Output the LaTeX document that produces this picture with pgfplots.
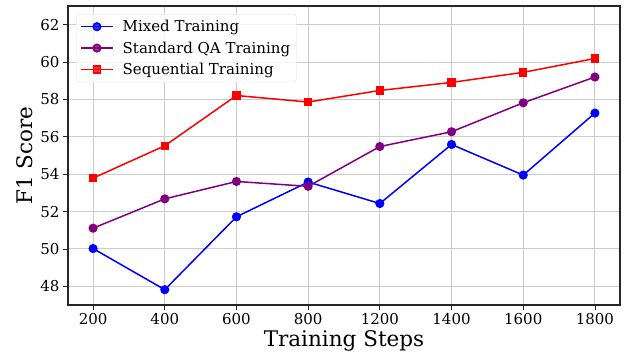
\documentclass[border=0pt]{standalone}
\usepackage{pgfplots}
\pgfplotsset{compat=1.18}
\usepackage{fontspec}
\setmainfont{DejaVu Serif}
\definecolor{mpurple}{RGB}{128,0,128}
\definecolor{mblue}{RGB}{0,0,255}
\definecolor{mred}{RGB}{255,0,0}
\begin{document}
\begin{tikzpicture}
\path[use as bounding box] (0,0) rectangle (636pt,358pt);
\begin{axis}[
 at={(68pt,53pt)}, anchor=south west,
 scale only axis, width=552pt, height=299pt,
 xmin=-0.35, xmax=7.35, ymin=47, ymax=63,
 xtick={0,...,7}, xticklabels={200,400,600,800,1200,1400,1600,1800},
 ytick={48,50,...,62},
 grid=major, grid style={gray!40, line width=0.9pt},
 axis line style={black!85, line width=1.2pt},
 tick align=outside, major tick length=5pt, tick style={black!85, line width=0.8pt},
 xtick pos=lower, ytick pos=left,
 ticklabel style={font=\fontsize{15}{18}\selectfont},
 /pgf/number format/assume math mode=true,
 xlabel={Training Steps}, ylabel={F1 Score},
 label style={font=\fontsize{21.5}{25}\selectfont},
 xlabel style={at={(axis description cs:0.5,-0.14)}, anchor=base},
 ylabel style={at={(axis description cs:-0.078,0.5)}, anchor=center},
 legend style={at={(rel axis cs:0.0145,0.973)}, anchor=north west,
   font=\fontsize{15}{18}\selectfont, draw=gray!25, rounded corners=3pt,
   fill=white, fill opacity=0.8, text opacity=1, row sep=4.5pt, inner sep=4pt},
 legend cell align=left,
 legend image code/.code={\draw[mark repeat=2,mark phase=2,#1] plot coordinates {(0pt,0pt) (16pt,0pt) (32pt,0pt)};\path (39pt,0pt);},
]
\addplot[mblue, line width=1.5pt, mark=*, mark size=3.8pt] coordinates {
(0,50.02) (1,47.82) (2,51.72) (3,53.58) (4,52.43) (5,55.59) (6,53.95) (7,57.27)};
\addlegendentry{Mixed Training}
\addplot[mpurple, line width=1.5pt, mark=*, mark size=3.8pt] coordinates {
(0,51.11) (1,52.68) (2,53.61) (3,53.35) (4,55.48) (5,56.27) (6,57.82) (7,59.2)};
\addlegendentry{Standard QA Training}
\addplot[mred, line width=1.5pt, mark=square*, mark size=3.5pt] coordinates {
(0,53.79) (1,55.52) (2,58.21) (3,57.86) (4,58.48) (5,58.91) (6,59.45) (7,60.19)};
\addlegendentry{Sequential Training}
\end{axis}
\end{tikzpicture}
\end{document}
